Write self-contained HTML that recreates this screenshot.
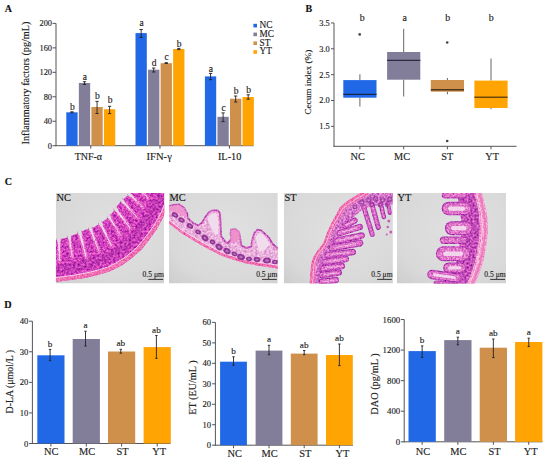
<!DOCTYPE html>
<html><head><meta charset="utf-8"><style>
html,body{margin:0;padding:0;background:#fff;}
body{width:550px;height:461px;overflow:hidden;}
svg{display:block;font-family:"Liberation Serif", serif;}
</style></head><body>
<svg width="550" height="461" viewBox="0 0 550 461">
<text x="4.8" y="11.6" font-size="10" text-anchor="start" font-weight="bold" fill="#111" stroke="#111" stroke-width="0.14">A</text>
<line x1="56" y1="23.4" x2="56" y2="146.2" stroke="#555" stroke-width="1"/>
<line x1="55.5" y1="145.7" x2="253.5" y2="145.7" stroke="#555" stroke-width="1"/>
<line x1="52.5" y1="145.7" x2="56" y2="145.7" stroke="#555" stroke-width="1"/>
<text x="52.0" y="148.7" font-size="8.4" text-anchor="end" font-weight="normal" fill="#222" stroke="#222" stroke-width="0.14">0</text>
<line x1="52.5" y1="121.24" x2="56" y2="121.24" stroke="#555" stroke-width="1"/>
<text x="52.0" y="124.24" font-size="8.4" text-anchor="end" font-weight="normal" fill="#222" stroke="#222" stroke-width="0.14">40</text>
<line x1="52.5" y1="96.78" x2="56" y2="96.78" stroke="#555" stroke-width="1"/>
<text x="52.0" y="99.78" font-size="8.4" text-anchor="end" font-weight="normal" fill="#222" stroke="#222" stroke-width="0.14">80</text>
<line x1="52.5" y1="72.32" x2="56" y2="72.32" stroke="#555" stroke-width="1"/>
<text x="52.0" y="75.32" font-size="8.4" text-anchor="end" font-weight="normal" fill="#222" stroke="#222" stroke-width="0.14">120</text>
<line x1="52.5" y1="47.86" x2="56" y2="47.86" stroke="#555" stroke-width="1"/>
<text x="52.0" y="50.86" font-size="8.4" text-anchor="end" font-weight="normal" fill="#222" stroke="#222" stroke-width="0.14">160</text>
<line x1="52.5" y1="23.400000000000006" x2="56" y2="23.400000000000006" stroke="#555" stroke-width="1"/>
<text x="52.0" y="26.400000000000006" font-size="8.4" text-anchor="end" font-weight="normal" fill="#222" stroke="#222" stroke-width="0.14">200</text>
<text x="29" y="83" font-size="10.2" text-anchor="middle" font-weight="normal" fill="#222" stroke="#222" stroke-width="0.14" transform="rotate(-90 29 83)">Inflammatory factors (pg/mL)</text>
<rect x="66.3" y="112.3" width="11.3" height="33.39999999999999" fill="#2068e6"/>
<line x1="71.95" y1="111.8" x2="71.95" y2="112.8" stroke="#222" stroke-width="0.9"/>
<line x1="70.3" y1="111.8" x2="73.60000000000001" y2="111.8" stroke="#222" stroke-width="0.9"/>
<line x1="70.3" y1="112.8" x2="73.60000000000001" y2="112.8" stroke="#222" stroke-width="0.9"/>
<text x="72.35000000000001" y="109.7" font-size="9.5" text-anchor="middle" font-weight="normal" fill="#222" stroke="#222" stroke-width="0.14">b</text>
<rect x="78.85" y="83.0" width="11.3" height="62.69999999999999" fill="#827e99"/>
<line x1="84.5" y1="81.7" x2="84.5" y2="84.5" stroke="#222" stroke-width="0.9"/>
<line x1="82.85" y1="81.7" x2="86.15" y2="81.7" stroke="#222" stroke-width="0.9"/>
<line x1="82.85" y1="84.5" x2="86.15" y2="84.5" stroke="#222" stroke-width="0.9"/>
<text x="84.9" y="79.5" font-size="9.5" text-anchor="middle" font-weight="normal" fill="#222" stroke="#222" stroke-width="0.14">a</text>
<rect x="91.4" y="107.0" width="11.3" height="38.69999999999999" fill="#cf904b"/>
<line x1="97.05000000000001" y1="101.4" x2="97.05000000000001" y2="113.5" stroke="#222" stroke-width="0.9"/>
<line x1="95.4" y1="101.4" x2="98.70000000000002" y2="101.4" stroke="#222" stroke-width="0.9"/>
<line x1="95.4" y1="113.5" x2="98.70000000000002" y2="113.5" stroke="#222" stroke-width="0.9"/>
<text x="97.45000000000002" y="99.0" font-size="9.5" text-anchor="middle" font-weight="normal" fill="#222" stroke="#222" stroke-width="0.14">b</text>
<rect x="103.95" y="109.2" width="11.3" height="36.499999999999986" fill="#ffa402"/>
<line x1="109.60000000000001" y1="106.3" x2="109.60000000000001" y2="113.6" stroke="#222" stroke-width="0.9"/>
<line x1="107.95" y1="106.3" x2="111.25000000000001" y2="106.3" stroke="#222" stroke-width="0.9"/>
<line x1="107.95" y1="113.6" x2="111.25000000000001" y2="113.6" stroke="#222" stroke-width="0.9"/>
<text x="110.00000000000001" y="103.3" font-size="9.5" text-anchor="middle" font-weight="normal" fill="#222" stroke="#222" stroke-width="0.14">b</text>
<line x1="90.775" y1="145.7" x2="90.775" y2="148.7" stroke="#555" stroke-width="1"/>
<text x="88.375" y="160" font-size="10.0" text-anchor="middle" font-weight="normal" fill="#222" stroke="#222" stroke-width="0.14">TNF-α</text>
<rect x="135.5" y="33.1" width="11.3" height="112.6" fill="#2068e6"/>
<line x1="141.15" y1="29.5" x2="141.15" y2="37.4" stroke="#222" stroke-width="0.9"/>
<line x1="139.5" y1="29.5" x2="142.8" y2="29.5" stroke="#222" stroke-width="0.9"/>
<line x1="139.5" y1="37.4" x2="142.8" y2="37.4" stroke="#222" stroke-width="0.9"/>
<text x="141.55" y="26.4" font-size="9.5" text-anchor="middle" font-weight="normal" fill="#222" stroke="#222" stroke-width="0.14">a</text>
<rect x="148.05" y="69.7" width="11.3" height="75.99999999999999" fill="#827e99"/>
<line x1="153.70000000000002" y1="68.0" x2="153.70000000000002" y2="72" stroke="#222" stroke-width="0.9"/>
<line x1="152.05" y1="68.0" x2="155.35000000000002" y2="68.0" stroke="#222" stroke-width="0.9"/>
<line x1="152.05" y1="72" x2="155.35000000000002" y2="72" stroke="#222" stroke-width="0.9"/>
<text x="154.10000000000002" y="65.9" font-size="9.5" text-anchor="middle" font-weight="normal" fill="#222" stroke="#222" stroke-width="0.14">d</text>
<rect x="160.6" y="63.2" width="11.3" height="82.49999999999999" fill="#cf904b"/>
<line x1="166.25" y1="62.7" x2="166.25" y2="63.5" stroke="#222" stroke-width="0.9"/>
<line x1="164.6" y1="62.7" x2="167.9" y2="62.7" stroke="#222" stroke-width="0.9"/>
<line x1="164.6" y1="63.5" x2="167.9" y2="63.5" stroke="#222" stroke-width="0.9"/>
<text x="166.65" y="60.3" font-size="9.5" text-anchor="middle" font-weight="normal" fill="#222" stroke="#222" stroke-width="0.14">c</text>
<rect x="173.15" y="49.0" width="11.3" height="96.69999999999999" fill="#ffa402"/>
<line x1="178.8" y1="48.4" x2="178.8" y2="49.6" stroke="#222" stroke-width="0.9"/>
<line x1="177.15" y1="48.4" x2="180.45000000000002" y2="48.4" stroke="#222" stroke-width="0.9"/>
<line x1="177.15" y1="49.6" x2="180.45000000000002" y2="49.6" stroke="#222" stroke-width="0.9"/>
<text x="179.20000000000002" y="46.8" font-size="9.5" text-anchor="middle" font-weight="normal" fill="#222" stroke="#222" stroke-width="0.14">b</text>
<line x1="159.975" y1="145.7" x2="159.975" y2="148.7" stroke="#555" stroke-width="1"/>
<text x="159.17499999999998" y="160" font-size="10.6" text-anchor="middle" font-weight="normal" fill="#222" stroke="#222" stroke-width="0.14">IFN-γ</text>
<rect x="204.9" y="76.4" width="11.3" height="69.29999999999998" fill="#2068e6"/>
<line x1="210.55" y1="73.4" x2="210.55" y2="79.7" stroke="#222" stroke-width="0.9"/>
<line x1="208.9" y1="73.4" x2="212.20000000000002" y2="73.4" stroke="#222" stroke-width="0.9"/>
<line x1="208.9" y1="79.7" x2="212.20000000000002" y2="79.7" stroke="#222" stroke-width="0.9"/>
<text x="210.95000000000002" y="71.7" font-size="9.5" text-anchor="middle" font-weight="normal" fill="#222" stroke="#222" stroke-width="0.14">a</text>
<rect x="217.45000000000002" y="116.8" width="11.3" height="28.89999999999999" fill="#827e99"/>
<line x1="223.10000000000002" y1="112.9" x2="223.10000000000002" y2="121.6" stroke="#222" stroke-width="0.9"/>
<line x1="221.45000000000002" y1="112.9" x2="224.75000000000003" y2="112.9" stroke="#222" stroke-width="0.9"/>
<line x1="221.45000000000002" y1="121.6" x2="224.75000000000003" y2="121.6" stroke="#222" stroke-width="0.9"/>
<text x="223.50000000000003" y="111.2" font-size="9.5" text-anchor="middle" font-weight="normal" fill="#222" stroke="#222" stroke-width="0.14">c</text>
<rect x="230.0" y="98.7" width="11.3" height="46.999999999999986" fill="#cf904b"/>
<line x1="235.65" y1="96.0" x2="235.65" y2="102" stroke="#222" stroke-width="0.9"/>
<line x1="234.0" y1="96.0" x2="237.3" y2="96.0" stroke="#222" stroke-width="0.9"/>
<line x1="234.0" y1="102" x2="237.3" y2="102" stroke="#222" stroke-width="0.9"/>
<text x="236.05" y="93.5" font-size="9.5" text-anchor="middle" font-weight="normal" fill="#222" stroke="#222" stroke-width="0.14">b</text>
<rect x="242.55" y="97.0" width="11.3" height="48.69999999999999" fill="#ffa402"/>
<line x1="248.20000000000002" y1="94.8" x2="248.20000000000002" y2="99.2" stroke="#222" stroke-width="0.9"/>
<line x1="246.55" y1="94.8" x2="249.85000000000002" y2="94.8" stroke="#222" stroke-width="0.9"/>
<line x1="246.55" y1="99.2" x2="249.85000000000002" y2="99.2" stroke="#222" stroke-width="0.9"/>
<text x="248.60000000000002" y="92.8" font-size="9.5" text-anchor="middle" font-weight="normal" fill="#222" stroke="#222" stroke-width="0.14">b</text>
<line x1="229.37500000000003" y1="145.7" x2="229.37500000000003" y2="148.7" stroke="#555" stroke-width="1"/>
<text x="229.67500000000004" y="160" font-size="10.3" text-anchor="middle" font-weight="normal" fill="#222" stroke="#222" stroke-width="0.14">IL-10</text>
<rect x="253.4" y="23.8" width="3.6" height="3.6" fill="#2068e6"/>
<text x="259.6" y="28.0" font-size="9.3" text-anchor="start" font-weight="normal" fill="#222" stroke="#222" stroke-width="0.14">NC</text>
<rect x="253.4" y="32.60000000000001" width="3.6" height="3.6" fill="#827e99"/>
<text x="259.6" y="36.800000000000004" font-size="9.3" text-anchor="start" font-weight="normal" fill="#222" stroke="#222" stroke-width="0.14">MC</text>
<rect x="253.4" y="41.400000000000006" width="3.6" height="3.6" fill="#cf904b"/>
<text x="259.6" y="45.6" font-size="9.3" text-anchor="start" font-weight="normal" fill="#222" stroke="#222" stroke-width="0.14">ST</text>
<rect x="253.4" y="50.2" width="3.6" height="3.6" fill="#ffa402"/>
<text x="259.6" y="54.4" font-size="9.3" text-anchor="start" font-weight="normal" fill="#222" stroke="#222" stroke-width="0.14">YT</text>
<text x="305.4" y="11.7" font-size="10" text-anchor="start" font-weight="bold" fill="#111" stroke="#111" stroke-width="0.14">B</text>
<line x1="334" y1="23" x2="334" y2="146.8" stroke="#555" stroke-width="1"/>
<line x1="333.5" y1="146.3" x2="516.5" y2="146.3" stroke="#555" stroke-width="1"/>
<line x1="331" y1="126.35" x2="334" y2="126.35" stroke="#555" stroke-width="1"/>
<text x="329.8" y="129.25" font-size="8.4" text-anchor="end" font-weight="normal" fill="#222" stroke="#222" stroke-width="0.14">1.5</text>
<line x1="331" y1="100.5" x2="334" y2="100.5" stroke="#555" stroke-width="1"/>
<text x="329.8" y="103.4" font-size="8.4" text-anchor="end" font-weight="normal" fill="#222" stroke="#222" stroke-width="0.14">2.0</text>
<line x1="331" y1="74.65" x2="334" y2="74.65" stroke="#555" stroke-width="1"/>
<text x="329.8" y="77.55000000000001" font-size="8.4" text-anchor="end" font-weight="normal" fill="#222" stroke="#222" stroke-width="0.14">2.5</text>
<line x1="331" y1="48.8" x2="334" y2="48.8" stroke="#555" stroke-width="1"/>
<text x="329.8" y="51.699999999999996" font-size="8.4" text-anchor="end" font-weight="normal" fill="#222" stroke="#222" stroke-width="0.14">3.0</text>
<line x1="331" y1="22.94999999999999" x2="334" y2="22.94999999999999" stroke="#555" stroke-width="1"/>
<text x="329.8" y="25.849999999999987" font-size="8.4" text-anchor="end" font-weight="normal" fill="#222" stroke="#222" stroke-width="0.14">3.5</text>
<text x="310.6" y="82.2" font-size="9.2" text-anchor="middle" font-weight="normal" fill="#222" stroke="#222" stroke-width="0.14" transform="rotate(-90 310.6 82.2)">Cecum index (%)</text>
<line x1="359.9" y1="74.3" x2="359.9" y2="80.1" stroke="#555" stroke-width="0.9"/>
<line x1="359.9" y1="97.7" x2="359.9" y2="106.5" stroke="#555" stroke-width="0.9"/>
<rect x="343.29999999999995" y="80.1" width="33.2" height="17.60000000000001" fill="#2068e6"/>
<line x1="343.29999999999995" y1="94.4" x2="376.5" y2="94.4" stroke="#152650" stroke-width="1.4"/>
<circle cx="359.7" cy="34.400000000000006" r="1.3" fill="#444"/>
<line x1="359.9" y1="146.3" x2="359.9" y2="149.3" stroke="#555" stroke-width="1"/>
<text x="357.7" y="159.5" font-size="10.3" text-anchor="middle" font-weight="normal" fill="#222" stroke="#222" stroke-width="0.14">NC</text>
<text x="362.09999999999997" y="21.4" font-size="9.9" text-anchor="middle" font-weight="normal" fill="#222" stroke="#222" stroke-width="0.14">b</text>
<line x1="403.7" y1="28.9" x2="403.7" y2="52.0" stroke="#555" stroke-width="0.9"/>
<line x1="403.7" y1="79.7" x2="403.7" y2="96.5" stroke="#555" stroke-width="0.9"/>
<rect x="387.09999999999997" y="52.0" width="33.2" height="27.700000000000003" fill="#827e99"/>
<line x1="387.09999999999997" y1="60.4" x2="420.3" y2="60.4" stroke="#2e2b40" stroke-width="1.4"/>
<line x1="403.7" y1="146.3" x2="403.7" y2="149.3" stroke="#555" stroke-width="1"/>
<text x="402.0" y="159.5" font-size="10.3" text-anchor="middle" font-weight="normal" fill="#222" stroke="#222" stroke-width="0.14">MC</text>
<text x="404.8" y="21.4" font-size="9.9" text-anchor="middle" font-weight="normal" fill="#222" stroke="#222" stroke-width="0.14">a</text>
<line x1="447.4" y1="78.0" x2="447.4" y2="80.0" stroke="#555" stroke-width="0.9"/>
<line x1="447.4" y1="91.7" x2="447.4" y2="94.3" stroke="#555" stroke-width="0.9"/>
<rect x="430.79999999999995" y="80.0" width="33.2" height="11.700000000000003" fill="#cf904b"/>
<line x1="430.79999999999995" y1="89.8" x2="464.0" y2="89.8" stroke="#4e3418" stroke-width="1.4"/>
<circle cx="447.2" cy="42.5" r="1.3" fill="#444"/>
<circle cx="447.2" cy="141.0" r="1.3" fill="#444"/>
<line x1="447.4" y1="146.3" x2="447.4" y2="149.3" stroke="#555" stroke-width="1"/>
<text x="447.2" y="159.5" font-size="10.3" text-anchor="middle" font-weight="normal" fill="#222" stroke="#222" stroke-width="0.14">ST</text>
<text x="447.7" y="21.4" font-size="9.9" text-anchor="middle" font-weight="normal" fill="#222" stroke="#222" stroke-width="0.14">b</text>
<line x1="491.0" y1="58.5" x2="491.0" y2="80.6" stroke="#555" stroke-width="0.9"/>
<line x1="491.0" y1="108.0" x2="491.0" y2="109.3" stroke="#555" stroke-width="0.9"/>
<rect x="474.4" y="80.6" width="33.2" height="27.400000000000006" fill="#ffa402"/>
<line x1="474.4" y1="97.2" x2="507.6" y2="97.2" stroke="#6e4808" stroke-width="1.4"/>
<line x1="491.0" y1="146.3" x2="491.0" y2="149.3" stroke="#555" stroke-width="1"/>
<text x="492.2" y="159.5" font-size="10.3" text-anchor="middle" font-weight="normal" fill="#222" stroke="#222" stroke-width="0.14">YT</text>
<text x="491.2" y="21.4" font-size="9.9" text-anchor="middle" font-weight="normal" fill="#222" stroke="#222" stroke-width="0.14">b</text>
<text x="4.8" y="184.8" font-size="10" text-anchor="start" font-weight="bold" fill="#111" stroke="#111" stroke-width="0.14">C</text>
<defs>
<clipPath id="clipNC"><rect x="0" y="0" width="108.4" height="90.5"/></clipPath>
<clipPath id="clipMC"><rect x="0" y="0" width="108.8" height="90.5"/></clipPath>
<clipPath id="clipST"><rect x="0" y="0" width="109.1" height="90.5"/></clipPath>
<clipPath id="clipYT"><rect x="0" y="0" width="109.1" height="90.5"/></clipPath>
<radialGradient id="bg" cx="0.55" cy="0.42" r="0.8"><stop offset="0" stop-color="#e0e0e0"/><stop offset="0.7" stop-color="#d9d9d9"/><stop offset="1" stop-color="#cdcdcd"/></radialGradient>
<filter id="tPurp" filterUnits="userSpaceOnUse" x="0" y="0" width="112" height="92" color-interpolation-filters="sRGB"><feTurbulence type="fractalNoise" baseFrequency="0.45" numOctaves="3" seed="5" result="n"/><feColorMatrix in="n" type="matrix" values="0.752 0 0 0 0.432  0.678 0 0 0 -0.090  0.466 0 0 0 0.499  0 0 0 0 1" result="c"/><feComposite in="c" in2="SourceAlpha" operator="in"/></filter>
<filter id="tViol" filterUnits="userSpaceOnUse" x="0" y="0" width="112" height="92" color-interpolation-filters="sRGB"><feTurbulence type="fractalNoise" baseFrequency="0.45" numOctaves="3" seed="7" result="n"/><feColorMatrix in="n" type="matrix" values="0.735 0 0 0 0.338  0.531 0 0 0 -0.001  0.449 0 0 0 0.471  0 0 0 0 1" result="c"/><feComposite in="c" in2="SourceAlpha" operator="in"/></filter>
<filter id="tPink" filterUnits="userSpaceOnUse" x="0" y="0" width="112" height="92" color-interpolation-filters="sRGB"><feTurbulence type="fractalNoise" baseFrequency="0.6" numOctaves="3" seed="3" result="n"/><feColorMatrix in="n" type="matrix" values="0.196 0 0 0 0.843  0.572 0 0 0 0.145  0.368 0 0 0 0.512  0 0 0 0 1" result="c"/><feComposite in="c" in2="SourceAlpha" operator="in"/></filter>
<filter id="tMC" filterUnits="userSpaceOnUse" x="0" y="0" width="112" height="92" color-interpolation-filters="sRGB"><feTurbulence type="fractalNoise" baseFrequency="0.45" numOctaves="3" seed="9" result="n"/><feColorMatrix in="n" type="matrix" values="0.286 0 0 0 0.769  0.572 0 0 0 0.400  0.310 0 0 0 0.704  0 0 0 0 1" result="c"/><feComposite in="c" in2="SourceAlpha" operator="in"/></filter>
<filter id="tEpi" filterUnits="userSpaceOnUse" x="0" y="0" width="112" height="92" color-interpolation-filters="sRGB"><feTurbulence type="fractalNoise" baseFrequency="0.6" numOctaves="3" seed="13" result="n"/><feColorMatrix in="n" type="matrix" values="0.613 0 0 0 0.468  0.572 0 0 0 0.047  0.408 0 0 0 0.521  0 0 0 0 1" result="c"/><feComposite in="c" in2="SourceAlpha" operator="in"/></filter>
<filter id="tLum" filterUnits="userSpaceOnUse" x="0" y="0" width="112" height="92" color-interpolation-filters="sRGB"><feTurbulence type="fractalNoise" baseFrequency="0.6" numOctaves="3" seed="11" result="n"/><feColorMatrix in="n" type="matrix" values="0.229 0 0 0 0.811  0.466 0 0 0 0.565  0.245 0 0 0 0.779  0 0 0 0 1" result="c"/><feComposite in="c" in2="SourceAlpha" operator="in"/></filter>
<filter id="tOut" filterUnits="userSpaceOnUse" x="0" y="0" width="112" height="92" color-interpolation-filters="sRGB"><feTurbulence type="fractalNoise" baseFrequency="0.6" numOctaves="3" seed="17" result="n"/><feColorMatrix in="n" type="matrix" values="0.694 0 0 0 0.368  0.531 0 0 0 -0.020  0.490 0 0 0 0.461  0 0 0 0 1" result="c"/><feComposite in="c" in2="SourceAlpha" operator="in"/></filter>
<filter id="tCore" filterUnits="userSpaceOnUse" x="0" y="0" width="112" height="92" color-interpolation-filters="sRGB"><feTurbulence type="fractalNoise" baseFrequency="0.55" numOctaves="3" seed="19" result="n"/><feColorMatrix in="n" type="matrix" values="0.449 0 0 0 0.648  0.694 0 0 0 0.114  0.343 0 0 0 0.617  0 0 0 0 1" result="c"/><feComposite in="c" in2="SourceAlpha" operator="in"/></filter>
<filter id="tCrypt" filterUnits="userSpaceOnUse" x="0" y="0" width="112" height="92" color-interpolation-filters="sRGB"><feTurbulence type="fractalNoise" baseFrequency="0.5" numOctaves="3" seed="23" result="n"/><feColorMatrix in="n" type="matrix" values="0.735 0 0 0 0.397  0.694 0 0 0 -0.043  0.490 0 0 0 0.480  0 0 0 0 1" result="c"/><feComposite in="c" in2="SourceAlpha" operator="in"/></filter>
<filter id="tPinkL" filterUnits="userSpaceOnUse" x="0" y="0" width="112" height="92" color-interpolation-filters="sRGB"><feTurbulence type="fractalNoise" baseFrequency="0.6" numOctaves="3" seed="31" result="n"/><feColorMatrix in="n" type="matrix" values="0.163 0 0 0 0.867  0.694 0 0 0 0.251  0.392 0 0 0 0.604  0 0 0 0 1" result="c"/><feComposite in="c" in2="SourceAlpha" operator="in"/></filter>
<filter id="tNCo" filterUnits="userSpaceOnUse" x="0" y="0" width="112" height="92" color-interpolation-filters="sRGB"><feTurbulence type="fractalNoise" baseFrequency="0.6" numOctaves="3" seed="37" result="n"/><feColorMatrix in="n" type="matrix" values="0.384 0 0 0 0.704  0.735 0 0 0 0.044  0.368 0 0 0 0.591  0 0 0 0 1" result="c"/><feComposite in="c" in2="SourceAlpha" operator="in"/></filter>
<filter id="tST" filterUnits="userSpaceOnUse" x="0" y="0" width="112" height="92" color-interpolation-filters="sRGB"><feTurbulence type="fractalNoise" baseFrequency="0.5" numOctaves="3" seed="29" result="n"/><feColorMatrix in="n" type="matrix" values="0.596 0 0 0 0.531  0.776 0 0 0 0.073  0.433 0 0 0 0.574  0 0 0 0 1" result="c"/><feComposite in="c" in2="SourceAlpha" operator="in"/></filter>
</defs>
<g transform="translate(55.8 193.0)" clip-path="url(#clipNC)">
<rect x="0" y="0" width="108.4" height="90.5" fill="url(#bg)"/>
<path d="M0.0,47.0 L5.0,46.0 L11.7,44.5 L20.0,41.0 L29.8,36.7 L38.0,34.2 L44.1,30.6 L50.2,26.5 L56.6,19.8 L62.7,11.1 L68.9,4.9 L76.3,-1.0 L84.0,-8.0 L120.0,-10.0 L120.0,12.0 L112.0,12.0 L110.0,17.8 L107.2,24.7 L100.4,37.0 L94.3,45.5 L85.8,56.4 L76.1,64.9 L66.3,72.2 L54.2,78.3 L42.0,82.0 L30.5,84.7 L15.0,87.0 L0.0,88.7 Z" fill="#000" filter="url(#tPurp)" />
<path d="M3.0,46.4 L3.7,68.6" fill="none" stroke="#000" stroke-width="4.4" stroke-linejoin="round" stroke-linecap="round" filter="url(#tNCo)" />
<path d="M13.5,43.7 L16.5,64.6" fill="none" stroke="#000" stroke-width="4.1" stroke-linejoin="round" stroke-linecap="round" filter="url(#tNCo)" />
<path d="M24.0,39.3 L30.6,65.0" fill="none" stroke="#000" stroke-width="4.6" stroke-linejoin="round" stroke-linecap="round" filter="url(#tNCo)" />
<path d="M34.5,35.3 L43.2,58.6" fill="none" stroke="#000" stroke-width="4.2" stroke-linejoin="round" stroke-linecap="round" filter="url(#tNCo)" />
<path d="M44.6,30.2 L56.1,53.6" fill="none" stroke="#000" stroke-width="4.4" stroke-linejoin="round" stroke-linecap="round" filter="url(#tNCo)" />
<path d="M53.1,23.5 L64.9,42.7" fill="none" stroke="#000" stroke-width="4.0" stroke-linejoin="round" stroke-linecap="round" filter="url(#tNCo)" />
<path d="M59.6,15.5 L74.7,35.6" fill="none" stroke="#000" stroke-width="4.4" stroke-linejoin="round" stroke-linecap="round" filter="url(#tNCo)" />
<path d="M66.2,7.6 L81.9,25.1" fill="none" stroke="#000" stroke-width="4.2" stroke-linejoin="round" stroke-linecap="round" filter="url(#tNCo)" />
<path d="M73.5,1.2 L87.4,14.2" fill="none" stroke="#000" stroke-width="4.0" stroke-linejoin="round" stroke-linecap="round" filter="url(#tNCo)" />
<path d="M80.6,-4.9 L93.1,5.0" fill="none" stroke="#000" stroke-width="4.0" stroke-linejoin="round" stroke-linecap="round" filter="url(#tNCo)" />
<path d="M3.0,45.6 L3.4,56.8" fill="none" stroke="#f4e8f2" stroke-width="1.8" stroke-linejoin="round" stroke-linecap="round" opacity="0.9"/>
<path d="M3.4,56.8 L3.7,67.3" fill="none" stroke="#f4e8f2" stroke-width="1.08" stroke-linejoin="round" stroke-linecap="round" opacity="0.85"/>
<path d="M3.0,43.9 L3.1,48.1" fill="none" stroke="#dcdcdc" stroke-width="3.4000000000000004" stroke-linejoin="round" stroke-linecap="round" />
<path d="M13.4,42.9 L14.9,53.5" fill="none" stroke="#f4e8f2" stroke-width="1.5" stroke-linejoin="round" stroke-linecap="round" opacity="0.9"/>
<path d="M14.9,53.5 L16.3,63.3" fill="none" stroke="#f4e8f2" stroke-width="0.8999999999999999" stroke-linejoin="round" stroke-linecap="round" opacity="0.85"/>
<path d="M13.2,41.2 L13.8,45.4" fill="none" stroke="#dcdcdc" stroke-width="3.1" stroke-linejoin="round" stroke-linecap="round" />
<path d="M23.7,38.4 L27.1,51.4" fill="none" stroke="#f4e8f2" stroke-width="2.0" stroke-linejoin="round" stroke-linecap="round" opacity="0.9"/>
<path d="M27.1,51.4 L30.2,63.6" fill="none" stroke="#f4e8f2" stroke-width="1.2" stroke-linejoin="round" stroke-linecap="round" opacity="0.85"/>
<path d="M23.3,36.6 L24.4,41.0" fill="none" stroke="#dcdcdc" stroke-width="3.6" stroke-linejoin="round" stroke-linecap="round" />
<path d="M34.2,34.4 L38.6,46.3" fill="none" stroke="#f4e8f2" stroke-width="1.6" stroke-linejoin="round" stroke-linecap="round" opacity="0.9"/>
<path d="M38.6,46.3 L42.7,57.3" fill="none" stroke="#f4e8f2" stroke-width="0.96" stroke-linejoin="round" stroke-linecap="round" opacity="0.85"/>
<path d="M33.6,32.6 L35.2,37.0" fill="none" stroke="#dcdcdc" stroke-width="3.2" stroke-linejoin="round" stroke-linecap="round" />
<path d="M44.2,29.4 L50.0,41.3" fill="none" stroke="#f4e8f2" stroke-width="1.8" stroke-linejoin="round" stroke-linecap="round" opacity="0.9"/>
<path d="M50.0,41.3 L55.4,52.3" fill="none" stroke="#f4e8f2" stroke-width="1.08" stroke-linejoin="round" stroke-linecap="round" opacity="0.85"/>
<path d="M43.4,27.7 L45.5,31.9" fill="none" stroke="#dcdcdc" stroke-width="3.4000000000000004" stroke-linejoin="round" stroke-linecap="round" />
<path d="M52.6,22.7 L58.6,32.5" fill="none" stroke="#f4e8f2" stroke-width="1.4" stroke-linejoin="round" stroke-linecap="round" opacity="0.9"/>
<path d="M58.6,32.5 L64.1,41.5" fill="none" stroke="#f4e8f2" stroke-width="0.84" stroke-linejoin="round" stroke-linecap="round" opacity="0.85"/>
<path d="M51.6,21.1 L54.0,25.1" fill="none" stroke="#dcdcdc" stroke-width="3.0" stroke-linejoin="round" stroke-linecap="round" />
<path d="M59.0,14.8 L66.7,25.0" fill="none" stroke="#f4e8f2" stroke-width="1.8" stroke-linejoin="round" stroke-linecap="round" opacity="0.9"/>
<path d="M66.7,25.0 L73.9,34.5" fill="none" stroke="#f4e8f2" stroke-width="1.08" stroke-linejoin="round" stroke-linecap="round" opacity="0.85"/>
<path d="M57.9,13.3 L60.7,17.1" fill="none" stroke="#dcdcdc" stroke-width="3.4000000000000004" stroke-linejoin="round" stroke-linecap="round" />
<path d="M65.5,7.0 L73.6,15.8" fill="none" stroke="#f4e8f2" stroke-width="1.6" stroke-linejoin="round" stroke-linecap="round" opacity="0.9"/>
<path d="M73.6,15.8 L80.9,24.0" fill="none" stroke="#f4e8f2" stroke-width="0.96" stroke-linejoin="round" stroke-linecap="round" opacity="0.85"/>
<path d="M64.3,5.6 L67.4,9.0" fill="none" stroke="#dcdcdc" stroke-width="3.2" stroke-linejoin="round" stroke-linecap="round" />
<path d="M72.9,0.6 L80.0,7.3" fill="none" stroke="#f4e8f2" stroke-width="1.4" stroke-linejoin="round" stroke-linecap="round" opacity="0.9"/>
<path d="M80.0,7.3 L86.4,13.3" fill="none" stroke="#f4e8f2" stroke-width="0.84" stroke-linejoin="round" stroke-linecap="round" opacity="0.85"/>
<path d="M71.7,-0.5 L74.8,2.4" fill="none" stroke="#dcdcdc" stroke-width="3.0" stroke-linejoin="round" stroke-linecap="round" />
<path d="M80.0,-5.3 L86.4,-0.3" fill="none" stroke="#f4e8f2" stroke-width="1.4" stroke-linejoin="round" stroke-linecap="round" opacity="0.9"/>
<path d="M86.4,-0.3 L92.3,4.4" fill="none" stroke="#f4e8f2" stroke-width="0.84" stroke-linejoin="round" stroke-linecap="round" opacity="0.85"/>
<path d="M78.8,-6.3 L81.7,-4.0" fill="none" stroke="#dcdcdc" stroke-width="3.0" stroke-linejoin="round" stroke-linecap="round" />
<path d="M0.0,76.2 L6.6,75.3 L13.2,74.4 L19.7,73.1 L26.2,71.8 L32.6,70.1 L38.9,68.3 L45.3,66.3 L51.5,64.0 L57.4,60.9 L63.0,57.3 L68.3,53.3 L73.2,48.8 L77.9,44.2 L82.0,38.9 L86.1,33.7 L90.2,28.4 L93.9,23.0 L97.6,17.6 L100.7,11.9 L103.6,6.0" fill="none" stroke="#6a1a80" stroke-width="9" stroke-linejoin="round" stroke-linecap="round" opacity="0.12"/>
<path d="M0.0,84.5 L8.8,83.5 L17.6,82.3 L26.3,80.8 L34.9,79.0 L43.4,76.7 L51.9,74.1 L59.8,70.2 L67.4,65.6 L74.4,60.2 L81.0,54.4 L86.8,47.7 L92.2,40.7 L97.4,33.5 L101.9,26.0 L105.9,18.1 L109.2,10.0 L112.0,12.0 L108.9,20.6 L104.9,28.8 L100.5,36.8 L95.2,44.2 L89.7,51.4 L83.7,58.2 L76.8,64.3 L69.6,69.8 L61.8,74.5 L53.6,78.5 L44.9,81.1 L36.1,83.4 L27.1,85.2 L18.1,86.5 L9.1,87.7 L0.0,88.7 Z" fill="#000" filter="url(#tPink)" />
<path d="M0.0,84.5 L8.8,83.5 L17.6,82.3 L26.3,80.8 L34.9,79.0 L43.4,76.7 L51.9,74.1 L59.8,70.2 L67.4,65.6 L74.4,60.2 L81.0,54.4 L86.8,47.7 L92.2,40.7 L97.4,33.5 L101.9,26.0 L105.9,18.1 L109.2,10.0" fill="none" stroke="#f6dff0" stroke-width="0.9" stroke-linejoin="round" stroke-linecap="round" />
<text x="0.6" y="8.2" font-size="10.4" text-anchor="start" font-weight="normal" fill="#111" stroke="#111" stroke-width="0.12">NC</text>
<text x="108.10000000000001" y="83.9" font-size="7.6" text-anchor="end" font-weight="normal" fill="#1a1a1a" stroke="#1a1a1a" stroke-width="0.12">0.5 μm</text>
<line x1="92.60000000000001" y1="86.4" x2="107.4" y2="86.4" stroke="#222" stroke-width="0.9"/>
</g>
<g transform="translate(169.0 193.0)" clip-path="url(#clipMC)">
<rect x="0" y="0" width="108.8" height="90.5" fill="url(#bg)"/>
<path d="M0.0,13.1 L4.9,11.9 L9.7,11.3 L14.6,14.3 L18.2,20.4 L18.8,25.2 L24.3,30.1 L29.2,32.5 L32.8,30.1 L36.4,24.0 L40.1,19.1 L43.7,17.3 L48.6,17.3 L51.0,20.4 L51.6,31.3 L52.2,43.4 L56.6,48.9 L59.1,50.1 L62.7,45.2 L61.5,40.4 L62.1,36.7 L66.4,36.1 L70.0,39.1 L71.2,45.2 L72.4,52.5 L77.3,54.9 L82.2,53.7 L83.4,46.4 L85.2,40.4 L88.2,36.7 L91.9,37.3 L95.5,40.4 L100.4,45.2 L104.0,51.3 L110.0,56.5 L110.0,76.0 L101.6,74.5 L89.4,72.8 L77.3,70.5 L65.1,67.0 L53.0,63.0 L36.4,54.5 L24.3,47.5 L12.1,40.0 L0.0,30.5 Z" fill="#000" filter="url(#tMC)" />
<path d="M0.0,13.1 L4.9,11.9 L9.7,11.3 L14.6,14.3 L18.2,20.4 L18.8,25.2 L24.3,30.1 L29.2,32.5 L32.8,30.1 L36.4,24.0 L40.1,19.1 L43.7,17.3 L48.6,17.3 L51.0,20.4 L51.6,31.3 L52.2,43.4 L56.6,48.9 L59.1,50.1 L62.7,45.2 L61.5,40.4 L62.1,36.7 L66.4,36.1 L70.0,39.1 L71.2,45.2 L72.4,52.5 L77.3,54.9 L82.2,53.7 L83.4,46.4 L85.2,40.4 L88.2,36.7 L91.9,37.3 L95.5,40.4 L100.4,45.2 L104.0,51.3 L110.0,56.5" fill="none" stroke="#000" stroke-width="1.8" stroke-linejoin="round" stroke-linecap="round" filter="url(#tEpi)" />
<path d="M0.0,13.5 L4.9,12.4 L9.7,11.8 L14.2,14.6 L17.6,20.4 L18.2,24.5 L12.0,22.0 L5.0,19.0 L0.0,18.0 Z" fill="#ee90cc" opacity="0.85"/>
<path d="M38.5,25.0 L43.0,20.5 L48.0,20.5 L49.5,30.0 L49.5,41.0 L46.0,42.0 L41.0,33.0 Z" fill="#f0dcec" />
<path d="M63.5,40.0 L66.5,38.5 L69.0,41.0 L69.5,48.0 L66.0,51.0 Z" fill="#ecc8e2" />
<path d="M86.5,45.0 L89.5,40.0 L93.0,40.5 L97.0,45.0 L101.0,51.0 L96.0,57.0 L90.0,59.0 Z" fill="#f0dcec" />
<path d="M110.0,72.5 L101.6,71.0 L89.4,69.3 L77.3,67.0 L65.1,63.5 L53.0,59.5 L36.4,51.0 L24.3,44.0 L12.1,36.5 L0.0,27.0 L0.0,30.5 L12.1,40.0 L24.3,47.5 L36.4,54.5 L53.0,63.0 L65.1,67.0 L77.3,70.5 L89.4,72.8 L101.6,74.5 L110.0,76.0 Z" fill="#000" filter="url(#tPink)" />
<path d="M110.0,72.5 L101.6,71.0 L89.4,69.3 L77.3,67.0 L65.1,63.5 L53.0,59.5 L36.4,51.0 L24.3,44.0 L12.1,36.5 L0.0,27.0" fill="none" stroke="#f8e4f2" stroke-width="0.9" stroke-linejoin="round" stroke-linecap="round" />
<ellipse cx="6" cy="22" rx="3.5" ry="2.4" transform="rotate(30 6 22)" fill="#86298e" opacity="0.9"/>
<ellipse cx="6" cy="22" rx="1.575" ry="0.96" transform="rotate(30 6 22)" fill="#c77fc4" opacity="0.8"/>
<ellipse cx="12.5" cy="27" rx="3.4" ry="2.4" transform="rotate(30 12.5 27)" fill="#86298e" opacity="0.9"/>
<ellipse cx="12.5" cy="27" rx="1.53" ry="0.96" transform="rotate(30 12.5 27)" fill="#c77fc4" opacity="0.8"/>
<ellipse cx="21" cy="33" rx="3.5" ry="2.4" transform="rotate(30 21 33)" fill="#86298e" opacity="0.9"/>
<ellipse cx="21" cy="33" rx="1.575" ry="0.96" transform="rotate(30 21 33)" fill="#c77fc4" opacity="0.8"/>
<ellipse cx="29" cy="39" rx="3" ry="2.2" transform="rotate(30 29 39)" fill="#86298e" opacity="0.9"/>
<ellipse cx="29" cy="39" rx="1.35" ry="0.8800000000000001" transform="rotate(30 29 39)" fill="#c77fc4" opacity="0.8"/>
<ellipse cx="36" cy="45" rx="3.8" ry="2.8" transform="rotate(40 36 45)" fill="#86298e" opacity="0.9"/>
<ellipse cx="36" cy="45" rx="1.71" ry="1.1199999999999999" transform="rotate(40 36 45)" fill="#c77fc4" opacity="0.8"/>
<ellipse cx="43.5" cy="49" rx="3" ry="2.2" transform="rotate(30 43.5 49)" fill="#86298e" opacity="0.9"/>
<ellipse cx="43.5" cy="49" rx="1.35" ry="0.8800000000000001" transform="rotate(30 43.5 49)" fill="#c77fc4" opacity="0.8"/>
<ellipse cx="50" cy="54" rx="3.8" ry="3" transform="rotate(40 50 54)" fill="#86298e" opacity="0.9"/>
<ellipse cx="50" cy="54" rx="1.71" ry="1.2000000000000002" transform="rotate(40 50 54)" fill="#c77fc4" opacity="0.8"/>
<ellipse cx="58" cy="58" rx="3.8" ry="2.8" transform="rotate(30 58 58)" fill="#86298e" opacity="0.9"/>
<ellipse cx="58" cy="58" rx="1.71" ry="1.1199999999999999" transform="rotate(30 58 58)" fill="#c77fc4" opacity="0.8"/>
<ellipse cx="65.5" cy="61" rx="3" ry="2.2" transform="rotate(20 65.5 61)" fill="#86298e" opacity="0.9"/>
<ellipse cx="65.5" cy="61" rx="1.35" ry="0.8800000000000001" transform="rotate(20 65.5 61)" fill="#c77fc4" opacity="0.8"/>
<ellipse cx="72" cy="64" rx="4" ry="3" transform="rotate(20 72 64)" fill="#86298e" opacity="0.9"/>
<ellipse cx="72" cy="64" rx="1.8" ry="1.2000000000000002" transform="rotate(20 72 64)" fill="#c77fc4" opacity="0.8"/>
<ellipse cx="80" cy="66" rx="3" ry="2.2" transform="rotate(10 80 66)" fill="#86298e" opacity="0.9"/>
<ellipse cx="80" cy="66" rx="1.35" ry="0.8800000000000001" transform="rotate(10 80 66)" fill="#c77fc4" opacity="0.8"/>
<ellipse cx="88" cy="66.5" rx="3.5" ry="2.6" transform="rotate(10 88 66.5)" fill="#86298e" opacity="0.9"/>
<ellipse cx="88" cy="66.5" rx="1.575" ry="1.04" transform="rotate(10 88 66.5)" fill="#c77fc4" opacity="0.8"/>
<ellipse cx="98" cy="67.5" rx="4" ry="3" transform="rotate(0 98 67.5)" fill="#86298e" opacity="0.9"/>
<ellipse cx="98" cy="67.5" rx="1.8" ry="1.2000000000000002" transform="rotate(0 98 67.5)" fill="#c77fc4" opacity="0.8"/>
<ellipse cx="106" cy="69" rx="3" ry="2.2" transform="rotate(0 106 69)" fill="#86298e" opacity="0.9"/>
<ellipse cx="106" cy="69" rx="1.35" ry="0.8800000000000001" transform="rotate(0 106 69)" fill="#c77fc4" opacity="0.8"/>
<path d="M61.8,50.0 L61.3,40.4 L62.1,36.7 L66.4,36.1 L70.0,39.1 L71.0,45.0 L68.0,49.0 Z" fill="#ee8cc8" opacity="0.9"/>
<text x="0.6" y="8.2" font-size="10.4" text-anchor="start" font-weight="normal" fill="#111" stroke="#111" stroke-width="0.12">MC</text>
<text x="108.5" y="83.9" font-size="7.6" text-anchor="end" font-weight="normal" fill="#1a1a1a" stroke="#1a1a1a" stroke-width="0.12">0.5 μm</text>
<line x1="93.0" y1="86.4" x2="107.8" y2="86.4" stroke="#222" stroke-width="0.9"/>
</g>
<g transform="translate(283.8 193.0)" clip-path="url(#clipST)">
<rect x="0" y="0" width="109.1" height="90.5" fill="url(#bg)"/>
<path d="M30.5,95.0 L31.0,88.0 L31.5,80.0 L32.5,70.0 L34.5,64.5 L38.5,58.5 L43.5,52.0 L47.0,42.0 L51.5,32.0 L56.0,24.5 L60.0,17.5 L65.5,13.0 L72.5,8.5 L79.5,4.5 L85.5,1.0 L120.0,-10.0 L120.0,11.0 L115.0,11.0 L115.0,11.0 L100.0,12.0 L88.0,13.0 L78.0,17.0 L70.0,24.0 L63.0,30.0 L58.0,38.0 L54.0,47.0 L50.0,56.0 L46.0,63.0 L43.0,70.0 L41.0,78.0 L40.5,86.0 L40.0,95.0 Z" fill="#000" filter="url(#tST)" />
<path d="M38.0,89.0 L52.0,87.0" fill="none" stroke="#000" stroke-width="6.5" stroke-linejoin="round" stroke-linecap="round" filter="url(#tOut)" />
<path d="M38.0,89.0 L52.0,87.0" fill="none" stroke="#000" stroke-width="4.1" stroke-linejoin="round" stroke-linecap="round" filter="url(#tCore)" />
<path d="M40.1,88.7 L49.9,87.3" fill="none" stroke="#f6e4f2" stroke-width="1.04" stroke-linejoin="round" stroke-linecap="round" opacity="0.6"/>
<path d="M38.0,82.0 L55.0,79.5" fill="none" stroke="#000" stroke-width="6.5" stroke-linejoin="round" stroke-linecap="round" filter="url(#tOut)" />
<path d="M38.0,82.0 L55.0,79.5" fill="none" stroke="#000" stroke-width="4.1" stroke-linejoin="round" stroke-linecap="round" filter="url(#tCore)" />
<path d="M40.5,81.6 L52.5,79.9" fill="none" stroke="#f6e4f2" stroke-width="1.04" stroke-linejoin="round" stroke-linecap="round" opacity="0.6"/>
<path d="M39.0,75.5 L58.0,73.0" fill="none" stroke="#000" stroke-width="6.5" stroke-linejoin="round" stroke-linecap="round" filter="url(#tOut)" />
<path d="M39.0,75.5 L58.0,73.0" fill="none" stroke="#000" stroke-width="4.1" stroke-linejoin="round" stroke-linecap="round" filter="url(#tCore)" />
<path d="M41.9,75.1 L55.1,73.4" fill="none" stroke="#f6e4f2" stroke-width="1.04" stroke-linejoin="round" stroke-linecap="round" opacity="0.6"/>
<path d="M41.0,69.0 L62.0,66.0" fill="none" stroke="#000" stroke-width="6.5" stroke-linejoin="round" stroke-linecap="round" filter="url(#tOut)" />
<path d="M41.0,69.0 L62.0,66.0" fill="none" stroke="#000" stroke-width="4.1" stroke-linejoin="round" stroke-linecap="round" filter="url(#tCore)" />
<path d="M44.1,68.5 L58.8,66.5" fill="none" stroke="#f6e4f2" stroke-width="1.04" stroke-linejoin="round" stroke-linecap="round" opacity="0.6"/>
<path d="M44.0,62.0 L69.0,59.0" fill="none" stroke="#000" stroke-width="6.5" stroke-linejoin="round" stroke-linecap="round" filter="url(#tOut)" />
<path d="M44.0,62.0 L69.0,59.0" fill="none" stroke="#000" stroke-width="4.1" stroke-linejoin="round" stroke-linecap="round" filter="url(#tCore)" />
<path d="M47.8,61.5 L65.2,59.5" fill="none" stroke="#f6e4f2" stroke-width="1.04" stroke-linejoin="round" stroke-linecap="round" opacity="0.6"/>
<path d="M48.0,55.0 L76.0,50.0" fill="none" stroke="#000" stroke-width="7" stroke-linejoin="round" stroke-linecap="round" filter="url(#tOut)" />
<path d="M48.0,55.0 L76.0,50.0" fill="none" stroke="#000" stroke-width="4.6" stroke-linejoin="round" stroke-linecap="round" filter="url(#tCore)" />
<path d="M52.2,54.2 L71.8,50.8" fill="none" stroke="#f6e4f2" stroke-width="1.12" stroke-linejoin="round" stroke-linecap="round" opacity="0.6"/>
<path d="M52.0,48.0 L78.0,42.5" fill="none" stroke="#000" stroke-width="6.5" stroke-linejoin="round" stroke-linecap="round" filter="url(#tOut)" />
<path d="M52.0,48.0 L78.0,42.5" fill="none" stroke="#000" stroke-width="4.1" stroke-linejoin="round" stroke-linecap="round" filter="url(#tCore)" />
<path d="M55.9,47.2 L74.1,43.3" fill="none" stroke="#f6e4f2" stroke-width="1.04" stroke-linejoin="round" stroke-linecap="round" opacity="0.6"/>
<path d="M56.0,40.0 L76.0,34.0" fill="none" stroke="#000" stroke-width="6.5" stroke-linejoin="round" stroke-linecap="round" filter="url(#tOut)" />
<path d="M56.0,40.0 L76.0,34.0" fill="none" stroke="#000" stroke-width="4.1" stroke-linejoin="round" stroke-linecap="round" filter="url(#tCore)" />
<path d="M59.0,39.1 L73.0,34.9" fill="none" stroke="#f6e4f2" stroke-width="1.04" stroke-linejoin="round" stroke-linecap="round" opacity="0.6"/>
<path d="M61.0,33.0 L71.0,27.5" fill="none" stroke="#000" stroke-width="6" stroke-linejoin="round" stroke-linecap="round" filter="url(#tOut)" />
<path d="M61.0,33.0 L71.0,27.5" fill="none" stroke="#000" stroke-width="3.6" stroke-linejoin="round" stroke-linecap="round" filter="url(#tCore)" />
<path d="M62.5,32.2 L69.5,28.3" fill="none" stroke="#f6e4f2" stroke-width="0.96" stroke-linejoin="round" stroke-linecap="round" opacity="0.6"/>
<path d="M80.0,14.0 L88.5,41.5" fill="none" stroke="#000" stroke-width="5" stroke-linejoin="round" stroke-linecap="round" filter="url(#tOut)" />
<path d="M80.0,14.0 L88.5,41.5" fill="none" stroke="#000" stroke-width="2.6" stroke-linejoin="round" stroke-linecap="round" filter="url(#tCore)" />
<path d="M88.0,11.0 L94.5,34.5" fill="none" stroke="#000" stroke-width="5" stroke-linejoin="round" stroke-linecap="round" filter="url(#tOut)" />
<path d="M88.0,11.0 L94.5,34.5" fill="none" stroke="#000" stroke-width="2.6" stroke-linejoin="round" stroke-linecap="round" filter="url(#tCore)" />
<path d="M97.0,11.0 L100.0,24.0" fill="none" stroke="#000" stroke-width="4.5" stroke-linejoin="round" stroke-linecap="round" filter="url(#tOut)" />
<path d="M97.0,11.0 L100.0,24.0" fill="none" stroke="#000" stroke-width="2.1" stroke-linejoin="round" stroke-linecap="round" filter="url(#tCore)" />
<path d="M104.0,10.0 L106.0,20.0" fill="none" stroke="#000" stroke-width="4" stroke-linejoin="round" stroke-linecap="round" filter="url(#tOut)" />
<path d="M104.0,10.0 L106.0,20.0" fill="none" stroke="#000" stroke-width="1.6" stroke-linejoin="round" stroke-linecap="round" filter="url(#tCore)" />
<circle cx="78" cy="9" r="2.1" fill="none" stroke="#8e3596" stroke-width="1.1" opacity="0.8"/>
<circle cx="85" cy="7" r="2" fill="none" stroke="#8e3596" stroke-width="1.1" opacity="0.8"/>
<circle cx="92" cy="6" r="2.1" fill="none" stroke="#8e3596" stroke-width="1.1" opacity="0.8"/>
<circle cx="99" cy="7" r="2" fill="none" stroke="#8e3596" stroke-width="1.1" opacity="0.8"/>
<circle cx="106" cy="6" r="2.1" fill="none" stroke="#8e3596" stroke-width="1.1" opacity="0.8"/>
<circle cx="88" cy="12" r="1.7" fill="none" stroke="#8e3596" stroke-width="1.1" opacity="0.8"/>
<circle cx="96" cy="12" r="1.7" fill="none" stroke="#8e3596" stroke-width="1.1" opacity="0.8"/>
<circle cx="71" cy="14" r="1.7" fill="none" stroke="#8e3596" stroke-width="1.1" opacity="0.8"/>
<circle cx="103" cy="12" r="1.5" fill="none" stroke="#8e3596" stroke-width="1.1" opacity="0.8"/>
<path d="M25.5,95.0 L26.0,88.0 L26.5,80.0 L27.5,70.0 L29.5,64.0 L34.0,57.0 L39.5,50.0 L43.0,40.0 L47.5,30.0 L52.0,22.0 L56.0,14.3 L62.0,9.0 L69.5,4.1 L76.0,0.0 L82.0,-4.0 L85.5,1.0 L79.5,4.5 L72.5,8.5 L65.5,13.0 L60.0,17.5 L56.0,24.5 L51.5,32.0 L47.0,42.0 L43.5,52.0 L38.5,58.5 L34.5,64.5 L32.5,70.0 L31.5,80.0 L31.0,88.0 L30.5,95.0 Z" fill="#000" filter="url(#tPink)" />
<path d="M28.5,95.0 L29.0,88.0 L29.5,80.0 L30.5,70.0 L32.5,64.3 L36.7,57.9 L41.9,51.2 L45.4,41.2 L49.9,31.2 L54.4,23.5 L58.4,16.2 L64.1,11.4 L71.3,6.7 L78.1,2.7 L84.1,-1.0" fill="none" stroke="#f6dff0" stroke-width="0.8" stroke-linejoin="round" stroke-linecap="round" opacity="0.8"/>
<circle cx="105" cy="28" r="1.5" fill="#c860b8"/>
<circle cx="104" cy="34" r="1.3" fill="#c860b8"/>
<circle cx="107" cy="39" r="1.5" fill="#c860b8"/>
<circle cx="103" cy="41.5" r="1.0" fill="#c860b8"/>
<text x="0.6" y="8.2" font-size="10.4" text-anchor="start" font-weight="normal" fill="#111" stroke="#111" stroke-width="0.12">ST</text>
<text x="108.8" y="83.9" font-size="7.6" text-anchor="end" font-weight="normal" fill="#1a1a1a" stroke="#1a1a1a" stroke-width="0.12">0.5 μm</text>
<line x1="93.3" y1="86.4" x2="108.1" y2="86.4" stroke="#222" stroke-width="0.9"/>
</g>
<g transform="translate(396.9 193.0)" clip-path="url(#clipYT)">
<rect x="0" y="0" width="109.1" height="90.5" fill="url(#bg)"/>
<path d="M77.0,-2.0 L80.0,10.0 L82.0,20.0 L83.0,32.0 L83.0,40.0 L81.5,52.0 L80.0,60.0 L78.0,70.0 L76.0,76.0 L73.0,84.0 L69.5,92.0 L54.0,92.0 L56.0,84.0 L58.0,74.0 L61.0,62.0 L63.0,50.0 L65.0,38.0 L64.0,25.0 L62.0,12.0 L60.0,-2.0 Z" fill="#000" filter="url(#tCrypt)" />
<path d="M67.0,2.0 L48.4,2.0" fill="none" stroke="#000" stroke-width="7" stroke-linejoin="round" stroke-linecap="round" filter="url(#tOut)" />
<path d="M67.0,2.0 L48.4,2.0" fill="none" stroke="#000" stroke-width="4.4" stroke-linejoin="round" stroke-linecap="round" filter="url(#tCore)" />
<path d="M68.0,15.6 L51.5,15.6" fill="none" stroke="#000" stroke-width="13.5" stroke-linejoin="round" stroke-linecap="round" filter="url(#tOut)" />
<path d="M68.0,15.6 L51.5,15.6" fill="none" stroke="#000" stroke-width="10.9" stroke-linejoin="round" stroke-linecap="round" filter="url(#tCore)" />
<path d="M66.3,15.6 L53.1,15.6" fill="none" stroke="#f4e6f2" stroke-width="4.05" stroke-linejoin="round" stroke-linecap="round" opacity="0.85"/>
<path d="M69.0,35.2 L55.0,35.2" fill="none" stroke="#000" stroke-width="14" stroke-linejoin="round" stroke-linecap="round" filter="url(#tOut)" />
<path d="M69.0,35.2 L55.0,35.2" fill="none" stroke="#000" stroke-width="11.4" stroke-linejoin="round" stroke-linecap="round" filter="url(#tCore)" />
<path d="M67.6,35.2 L56.4,35.2" fill="none" stroke="#f4e6f2" stroke-width="4.2" stroke-linejoin="round" stroke-linecap="round" opacity="0.85"/>
<path d="M67.0,47.2 L46.7,47.2" fill="none" stroke="#000" stroke-width="7.6" stroke-linejoin="round" stroke-linecap="round" filter="url(#tOut)" />
<path d="M67.0,47.2 L46.7,47.2" fill="none" stroke="#000" stroke-width="5.0" stroke-linejoin="round" stroke-linecap="round" filter="url(#tCore)" />
<path d="M66.0,60.8 L46.5,60.8" fill="none" stroke="#000" stroke-width="15" stroke-linejoin="round" stroke-linecap="round" filter="url(#tOut)" />
<path d="M66.0,60.8 L46.5,60.8" fill="none" stroke="#000" stroke-width="12.4" stroke-linejoin="round" stroke-linecap="round" filter="url(#tCore)" />
<path d="M64.0,60.8 L48.5,60.8" fill="none" stroke="#f4e6f2" stroke-width="4.5" stroke-linejoin="round" stroke-linecap="round" opacity="0.85"/>
<path d="M64.0,74.8 L51.5,74.8" fill="none" stroke="#000" stroke-width="10.5" stroke-linejoin="round" stroke-linecap="round" filter="url(#tOut)" />
<path d="M64.0,74.8 L51.5,74.8" fill="none" stroke="#000" stroke-width="7.9" stroke-linejoin="round" stroke-linecap="round" filter="url(#tCore)" />
<path d="M62.8,74.8 L52.8,74.8" fill="none" stroke="#f4e6f2" stroke-width="3.15" stroke-linejoin="round" stroke-linecap="round" opacity="0.85"/>
<path d="M60.0,85.0 L35.0,81.5" fill="none" stroke="#000" stroke-width="9.5" stroke-linejoin="round" stroke-linecap="round" filter="url(#tOut)" />
<path d="M60.0,85.0 L35.0,81.5" fill="none" stroke="#000" stroke-width="6.9" stroke-linejoin="round" stroke-linecap="round" filter="url(#tCore)" />
<path d="M57.5,84.7 L37.5,81.8" fill="none" stroke="#f4e6f2" stroke-width="2.85" stroke-linejoin="round" stroke-linecap="round" opacity="0.85"/>
<path d="M58.0,92.0 L40.0,91.0" fill="none" stroke="#000" stroke-width="7" stroke-linejoin="round" stroke-linecap="round" filter="url(#tOut)" />
<path d="M58.0,92.0 L40.0,91.0" fill="none" stroke="#000" stroke-width="4.4" stroke-linejoin="round" stroke-linecap="round" filter="url(#tCore)" />
<path d="M84.5,-2.0 L87.5,10.0 L90.0,20.0 L91.0,32.0 L91.0,40.0 L89.5,52.0 L88.0,60.0 L86.0,70.0 L84.0,76.0 L81.0,84.0 L77.5,92.0 L69.5,92.0 L73.0,84.0 L76.0,76.0 L78.0,70.0 L80.0,60.0 L81.5,52.0 L83.0,40.0 L83.0,32.0 L82.0,20.0 L80.0,10.0 L77.0,-2.0 Z" fill="#000" filter="url(#tPinkL)" />
<path d="M81.9,-2.0 L84.9,10.0 L87.2,20.0 L88.2,32.0 L88.2,40.0 L86.7,52.0 L85.2,60.0 L83.2,70.0 L81.2,76.0 L78.2,84.0 L74.7,92.0" fill="none" stroke="#ee70b8" stroke-width="1.6" stroke-linejoin="round" stroke-linecap="round" opacity="0.8"/>
<path d="M79.2,-2.0 L82.2,10.0 L84.4,20.0 L85.4,32.0 L85.4,40.0 L83.9,52.0 L82.4,60.0 L80.4,70.0 L78.4,76.0 L75.4,84.0 L71.9,92.0" fill="none" stroke="#f8e6f2" stroke-width="0.8" stroke-linejoin="round" stroke-linecap="round" opacity="0.8"/>
<text x="0.6" y="8.2" font-size="10.4" text-anchor="start" font-weight="normal" fill="#111" stroke="#111" stroke-width="0.12">YT</text>
<text x="108.8" y="83.9" font-size="7.6" text-anchor="end" font-weight="normal" fill="#1a1a1a" stroke="#1a1a1a" stroke-width="0.12">0.5 μm</text>
<line x1="93.3" y1="86.4" x2="108.1" y2="86.4" stroke="#222" stroke-width="0.9"/>
</g>
<text x="4.3" y="307.5" font-size="10.2" text-anchor="start" font-weight="bold" fill="#111" stroke="#111" stroke-width="0.14">D</text>
<line x1="32.4" y1="321.2" x2="32.4" y2="444.0" stroke="#555" stroke-width="1"/>
<line x1="31.9" y1="443.5" x2="170.5" y2="443.5" stroke="#555" stroke-width="1"/>
<line x1="29.099999999999998" y1="443.5" x2="32.4" y2="443.5" stroke="#555" stroke-width="1"/>
<text x="28.4" y="446.5" font-size="8.6" text-anchor="end" font-weight="normal" fill="#222" stroke="#222" stroke-width="0.14">0</text>
<line x1="29.099999999999998" y1="412.925" x2="32.4" y2="412.925" stroke="#555" stroke-width="1"/>
<text x="28.4" y="415.925" font-size="8.6" text-anchor="end" font-weight="normal" fill="#222" stroke="#222" stroke-width="0.14">10</text>
<line x1="29.099999999999998" y1="382.35" x2="32.4" y2="382.35" stroke="#555" stroke-width="1"/>
<text x="28.4" y="385.35" font-size="8.6" text-anchor="end" font-weight="normal" fill="#222" stroke="#222" stroke-width="0.14">20</text>
<line x1="29.099999999999998" y1="351.775" x2="32.4" y2="351.775" stroke="#555" stroke-width="1"/>
<text x="28.4" y="354.775" font-size="8.6" text-anchor="end" font-weight="normal" fill="#222" stroke="#222" stroke-width="0.14">30</text>
<line x1="29.099999999999998" y1="321.2" x2="32.4" y2="321.2" stroke="#555" stroke-width="1"/>
<text x="28.4" y="324.2" font-size="8.6" text-anchor="end" font-weight="normal" fill="#222" stroke="#222" stroke-width="0.14">40</text>
<rect x="37.3" y="355.3" width="27.2" height="88.19999999999999" fill="#2068e6"/>
<line x1="50.1" y1="349.4" x2="50.1" y2="360.6" stroke="#222" stroke-width="0.9"/>
<line x1="48.9" y1="349.4" x2="51.300000000000004" y2="349.4" stroke="#222" stroke-width="0.9"/>
<line x1="48.9" y1="360.6" x2="51.300000000000004" y2="360.6" stroke="#222" stroke-width="0.9"/>
<text x="50.1" y="346.5" font-size="9.2" text-anchor="middle" font-weight="normal" fill="#222" stroke="#222" stroke-width="0.14">b</text>
<line x1="50.9" y1="443.5" x2="50.9" y2="446.5" stroke="#555" stroke-width="1"/>
<text x="51.1" y="454.8" font-size="10.4" text-anchor="middle" font-weight="normal" fill="#222" stroke="#222" stroke-width="0.14">NC</text>
<rect x="72.7" y="339.0" width="27.2" height="104.5" fill="#827e99"/>
<line x1="85.5" y1="331.2" x2="85.5" y2="346.0" stroke="#222" stroke-width="0.9"/>
<line x1="84.3" y1="331.2" x2="86.7" y2="331.2" stroke="#222" stroke-width="0.9"/>
<line x1="84.3" y1="346.0" x2="86.7" y2="346.0" stroke="#222" stroke-width="0.9"/>
<text x="85.5" y="328.3" font-size="9.2" text-anchor="middle" font-weight="normal" fill="#222" stroke="#222" stroke-width="0.14">a</text>
<line x1="86.3" y1="443.5" x2="86.3" y2="446.5" stroke="#555" stroke-width="1"/>
<text x="87.14999999999999" y="454.8" font-size="10.4" text-anchor="middle" font-weight="normal" fill="#222" stroke="#222" stroke-width="0.14">MC</text>
<rect x="108.0" y="351.5" width="27.2" height="92.0" fill="#cf904b"/>
<line x1="120.8" y1="349.3" x2="120.8" y2="353.2" stroke="#222" stroke-width="0.9"/>
<line x1="119.6" y1="349.3" x2="122.0" y2="349.3" stroke="#222" stroke-width="0.9"/>
<line x1="119.6" y1="353.2" x2="122.0" y2="353.2" stroke="#222" stroke-width="0.9"/>
<text x="120.8" y="346.40000000000003" font-size="9.2" text-anchor="middle" font-weight="normal" fill="#222" stroke="#222" stroke-width="0.14">ab</text>
<line x1="121.6" y1="443.5" x2="121.6" y2="446.5" stroke="#555" stroke-width="1"/>
<text x="122.44999999999999" y="454.8" font-size="10.4" text-anchor="middle" font-weight="normal" fill="#222" stroke="#222" stroke-width="0.14">ST</text>
<rect x="143.6" y="347.1" width="27.2" height="96.39999999999998" fill="#ffa402"/>
<line x1="156.39999999999998" y1="335.5" x2="156.39999999999998" y2="358.4" stroke="#222" stroke-width="0.9"/>
<line x1="155.2" y1="335.5" x2="157.59999999999997" y2="335.5" stroke="#222" stroke-width="0.9"/>
<line x1="155.2" y1="358.4" x2="157.59999999999997" y2="358.4" stroke="#222" stroke-width="0.9"/>
<text x="156.39999999999998" y="332.6" font-size="9.2" text-anchor="middle" font-weight="normal" fill="#222" stroke="#222" stroke-width="0.14">ab</text>
<line x1="157.2" y1="443.5" x2="157.2" y2="446.5" stroke="#555" stroke-width="1"/>
<text x="159.1" y="454.8" font-size="10.4" text-anchor="middle" font-weight="normal" fill="#222" stroke="#222" stroke-width="0.14">YT</text>
<text x="13.3" y="381.7" font-size="9.9" text-anchor="middle" font-weight="normal" fill="#222" stroke="#222" stroke-width="0.14" transform="rotate(-90 13.3 381.7)">D-LA (μmol/L )</text>
<line x1="215.4" y1="322.4" x2="215.4" y2="445.7" stroke="#555" stroke-width="1"/>
<line x1="214.9" y1="445.2" x2="353.0" y2="445.2" stroke="#555" stroke-width="1"/>
<line x1="212.1" y1="445.2" x2="215.4" y2="445.2" stroke="#555" stroke-width="1"/>
<text x="211.1" y="448.2" font-size="8.6" text-anchor="end" font-weight="normal" fill="#222" stroke="#222" stroke-width="0.14">0</text>
<line x1="212.1" y1="424.73333333333335" x2="215.4" y2="424.73333333333335" stroke="#555" stroke-width="1"/>
<text x="211.1" y="427.73333333333335" font-size="8.6" text-anchor="end" font-weight="normal" fill="#222" stroke="#222" stroke-width="0.14">10</text>
<line x1="212.1" y1="404.26666666666665" x2="215.4" y2="404.26666666666665" stroke="#555" stroke-width="1"/>
<text x="211.1" y="407.26666666666665" font-size="8.6" text-anchor="end" font-weight="normal" fill="#222" stroke="#222" stroke-width="0.14">20</text>
<line x1="212.1" y1="383.79999999999995" x2="215.4" y2="383.79999999999995" stroke="#555" stroke-width="1"/>
<text x="211.1" y="386.79999999999995" font-size="8.6" text-anchor="end" font-weight="normal" fill="#222" stroke="#222" stroke-width="0.14">30</text>
<line x1="212.1" y1="363.3333333333333" x2="215.4" y2="363.3333333333333" stroke="#555" stroke-width="1"/>
<text x="211.1" y="366.3333333333333" font-size="8.6" text-anchor="end" font-weight="normal" fill="#222" stroke="#222" stroke-width="0.14">40</text>
<line x1="212.1" y1="342.8666666666667" x2="215.4" y2="342.8666666666667" stroke="#555" stroke-width="1"/>
<text x="211.1" y="345.8666666666667" font-size="8.6" text-anchor="end" font-weight="normal" fill="#222" stroke="#222" stroke-width="0.14">50</text>
<line x1="212.1" y1="322.4" x2="215.4" y2="322.4" stroke="#555" stroke-width="1"/>
<text x="211.1" y="325.4" font-size="8.6" text-anchor="end" font-weight="normal" fill="#222" stroke="#222" stroke-width="0.14">60</text>
<rect x="220.1" y="361.7" width="26.8" height="83.5" fill="#2068e6"/>
<line x1="233.5" y1="356.8" x2="233.5" y2="365.2" stroke="#222" stroke-width="0.9"/>
<line x1="232.3" y1="356.8" x2="234.7" y2="356.8" stroke="#222" stroke-width="0.9"/>
<line x1="232.3" y1="365.2" x2="234.7" y2="365.2" stroke="#222" stroke-width="0.9"/>
<text x="233.5" y="353.90000000000003" font-size="9.2" text-anchor="middle" font-weight="normal" fill="#222" stroke="#222" stroke-width="0.14">b</text>
<line x1="233.5" y1="445.2" x2="233.5" y2="448.2" stroke="#555" stroke-width="1"/>
<text x="234.8" y="456.6" font-size="10.4" text-anchor="middle" font-weight="normal" fill="#222" stroke="#222" stroke-width="0.14">NC</text>
<rect x="255.6" y="350.6" width="26.8" height="94.59999999999997" fill="#827e99"/>
<line x1="269.0" y1="345.3" x2="269.0" y2="354.7" stroke="#222" stroke-width="0.9"/>
<line x1="267.8" y1="345.3" x2="270.2" y2="345.3" stroke="#222" stroke-width="0.9"/>
<line x1="267.8" y1="354.7" x2="270.2" y2="354.7" stroke="#222" stroke-width="0.9"/>
<text x="269.0" y="342.40000000000003" font-size="9.2" text-anchor="middle" font-weight="normal" fill="#222" stroke="#222" stroke-width="0.14">a</text>
<line x1="269.0" y1="445.2" x2="269.0" y2="448.2" stroke="#555" stroke-width="1"/>
<text x="269.5" y="456.6" font-size="10.4" text-anchor="middle" font-weight="normal" fill="#222" stroke="#222" stroke-width="0.14">MC</text>
<rect x="290.8" y="353.6" width="26.8" height="91.59999999999997" fill="#cf904b"/>
<line x1="304.2" y1="350.5" x2="304.2" y2="354.7" stroke="#222" stroke-width="0.9"/>
<line x1="303.0" y1="350.5" x2="305.4" y2="350.5" stroke="#222" stroke-width="0.9"/>
<line x1="303.0" y1="354.7" x2="305.4" y2="354.7" stroke="#222" stroke-width="0.9"/>
<text x="304.2" y="347.6" font-size="9.2" text-anchor="middle" font-weight="normal" fill="#222" stroke="#222" stroke-width="0.14">ab</text>
<line x1="304.2" y1="445.2" x2="304.2" y2="448.2" stroke="#555" stroke-width="1"/>
<text x="305.4" y="456.6" font-size="10.4" text-anchor="middle" font-weight="normal" fill="#222" stroke="#222" stroke-width="0.14">ST</text>
<rect x="326.0" y="355.0" width="26.8" height="90.19999999999999" fill="#ffa402"/>
<line x1="339.4" y1="344.0" x2="339.4" y2="365.6" stroke="#222" stroke-width="0.9"/>
<line x1="338.2" y1="344.0" x2="340.59999999999997" y2="344.0" stroke="#222" stroke-width="0.9"/>
<line x1="338.2" y1="365.6" x2="340.59999999999997" y2="365.6" stroke="#222" stroke-width="0.9"/>
<text x="339.4" y="341.1" font-size="9.2" text-anchor="middle" font-weight="normal" fill="#222" stroke="#222" stroke-width="0.14">ab</text>
<line x1="339.4" y1="445.2" x2="339.4" y2="448.2" stroke="#555" stroke-width="1"/>
<text x="342.4" y="456.6" font-size="10.4" text-anchor="middle" font-weight="normal" fill="#222" stroke="#222" stroke-width="0.14">YT</text>
<text x="196.3" y="387.6" font-size="10.2" text-anchor="middle" font-weight="normal" fill="#222" stroke="#222" stroke-width="0.14" transform="rotate(-90 196.3 387.6)">ET (EU/mL )</text>
<line x1="404.2" y1="319.5" x2="404.2" y2="442.3" stroke="#555" stroke-width="1"/>
<line x1="403.7" y1="441.8" x2="542.5" y2="441.8" stroke="#555" stroke-width="1"/>
<line x1="400.9" y1="441.8" x2="404.2" y2="441.8" stroke="#555" stroke-width="1"/>
<text x="400.2" y="444.8" font-size="8.8" text-anchor="end" font-weight="normal" fill="#222" stroke="#222" stroke-width="0.14">0</text>
<line x1="400.9" y1="411.225" x2="404.2" y2="411.225" stroke="#555" stroke-width="1"/>
<text x="400.2" y="414.225" font-size="8.8" text-anchor="end" font-weight="normal" fill="#222" stroke="#222" stroke-width="0.14">400</text>
<line x1="400.9" y1="380.65" x2="404.2" y2="380.65" stroke="#555" stroke-width="1"/>
<text x="400.2" y="383.65" font-size="8.8" text-anchor="end" font-weight="normal" fill="#222" stroke="#222" stroke-width="0.14">800</text>
<line x1="400.9" y1="350.075" x2="404.2" y2="350.075" stroke="#555" stroke-width="1"/>
<text x="400.2" y="353.075" font-size="8.8" text-anchor="end" font-weight="normal" fill="#222" stroke="#222" stroke-width="0.14">1200</text>
<line x1="400.9" y1="319.5" x2="404.2" y2="319.5" stroke="#555" stroke-width="1"/>
<text x="400.2" y="322.5" font-size="8.8" text-anchor="end" font-weight="normal" fill="#222" stroke="#222" stroke-width="0.14">1600</text>
<rect x="408.5" y="351.1" width="27.3" height="90.69999999999999" fill="#2068e6"/>
<line x1="422.15" y1="345.9" x2="422.15" y2="357.3" stroke="#222" stroke-width="0.9"/>
<line x1="420.95" y1="345.9" x2="423.34999999999997" y2="345.9" stroke="#222" stroke-width="0.9"/>
<line x1="420.95" y1="357.3" x2="423.34999999999997" y2="357.3" stroke="#222" stroke-width="0.9"/>
<text x="422.15" y="343.0" font-size="9.2" text-anchor="middle" font-weight="normal" fill="#222" stroke="#222" stroke-width="0.14">b</text>
<line x1="422.15" y1="441.8" x2="422.15" y2="444.8" stroke="#555" stroke-width="1"/>
<text x="422.95" y="454.6" font-size="10.4" text-anchor="middle" font-weight="normal" fill="#222" stroke="#222" stroke-width="0.14">NC</text>
<rect x="444.2" y="340.1" width="27.3" height="101.69999999999999" fill="#827e99"/>
<line x1="457.84999999999997" y1="337.2" x2="457.84999999999997" y2="344.8" stroke="#222" stroke-width="0.9"/>
<line x1="456.65" y1="337.2" x2="459.04999999999995" y2="337.2" stroke="#222" stroke-width="0.9"/>
<line x1="456.65" y1="344.8" x2="459.04999999999995" y2="344.8" stroke="#222" stroke-width="0.9"/>
<text x="457.84999999999997" y="334.3" font-size="9.2" text-anchor="middle" font-weight="normal" fill="#222" stroke="#222" stroke-width="0.14">a</text>
<line x1="457.84999999999997" y1="441.8" x2="457.84999999999997" y2="444.8" stroke="#555" stroke-width="1"/>
<text x="458.34999999999997" y="454.6" font-size="10.4" text-anchor="middle" font-weight="normal" fill="#222" stroke="#222" stroke-width="0.14">MC</text>
<rect x="479.7" y="347.7" width="27.3" height="94.10000000000002" fill="#cf904b"/>
<line x1="493.34999999999997" y1="339.0" x2="493.34999999999997" y2="357.6" stroke="#222" stroke-width="0.9"/>
<line x1="492.15" y1="339.0" x2="494.54999999999995" y2="339.0" stroke="#222" stroke-width="0.9"/>
<line x1="492.15" y1="357.6" x2="494.54999999999995" y2="357.6" stroke="#222" stroke-width="0.9"/>
<text x="493.34999999999997" y="336.1" font-size="9.2" text-anchor="middle" font-weight="normal" fill="#222" stroke="#222" stroke-width="0.14">ab</text>
<line x1="493.34999999999997" y1="441.8" x2="493.34999999999997" y2="444.8" stroke="#555" stroke-width="1"/>
<text x="494.54999999999995" y="454.6" font-size="10.4" text-anchor="middle" font-weight="normal" fill="#222" stroke="#222" stroke-width="0.14">ST</text>
<rect x="515.1" y="342.0" width="27.3" height="99.80000000000001" fill="#ffa402"/>
<line x1="528.75" y1="338.2" x2="528.75" y2="346.6" stroke="#222" stroke-width="0.9"/>
<line x1="527.55" y1="338.2" x2="529.95" y2="338.2" stroke="#222" stroke-width="0.9"/>
<line x1="527.55" y1="346.6" x2="529.95" y2="346.6" stroke="#222" stroke-width="0.9"/>
<text x="528.75" y="335.3" font-size="9.2" text-anchor="middle" font-weight="normal" fill="#222" stroke="#222" stroke-width="0.14">a</text>
<line x1="528.75" y1="441.8" x2="528.75" y2="444.8" stroke="#555" stroke-width="1"/>
<text x="530.75" y="454.6" font-size="10.4" text-anchor="middle" font-weight="normal" fill="#222" stroke="#222" stroke-width="0.14">YT</text>
<text x="378.2" y="384.0" font-size="10.3" text-anchor="middle" font-weight="normal" fill="#222" stroke="#222" stroke-width="0.14" transform="rotate(-90 378.2 384.0)">DAO (pg/mL )</text>
</svg>
</body></html>
